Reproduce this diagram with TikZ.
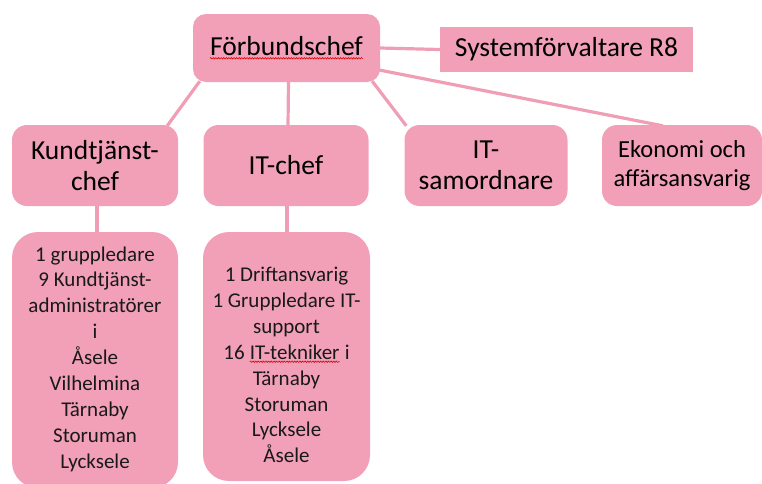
\documentclass[tikz,border=0pt]{standalone}
\usepackage{fontspec}
\setmainfont{Carlito}
\usetikzlibrary{calc,backgrounds,decorations.pathmorphing}
\definecolor{pinkfill}{RGB}{241,160,184}
\definecolor{pinkline}{RGB}{240,158,182}
\newcommand\spellwave[1]{\tikz[baseline=(w.base)]{\node[inner sep=0pt, minimum width=0pt, minimum height=0pt, fill=none, draw=none, sharp corners] (w) {#1};\draw[sharp corners, red!85!black, line width=0.6pt, decorate, decoration={snake, amplitude=0.7pt, segment length=2.6pt}] ([yshift=-2.5pt]w.base west) -- ([yshift=-2.5pt]w.base east);}}
\tikzset{
  boxbase/.style={fill=pinkfill, draw=none, align=center, inner sep=2pt, text=black},
  topbox/.style={boxbase, rounded corners=13pt, font=\fontsize{27.5}{31}\selectfont},
  midbox/.style={boxbase, rounded corners=15pt, font=\fontsize{27.5}{31}\selectfont},
  lowbox/.style={boxbase, rounded corners=26pt},
  plainbox/.style={boxbase, rounded corners=0pt, font=\fontsize{27.5}{31}\selectfont},
  link/.style={draw=pinkline, line width=3.2pt},
  lowtext/.style={align=center, inner sep=0pt, font=\fontsize{21}{25.9}\selectfont, text=black!90}
}
\begin{document}
\begin{tikzpicture}[x=1pt,y=-1pt]
\useasboundingbox (0,0) rectangle (762,483);
% top row
\node[topbox, minimum width=187pt, minimum height=68pt] (F) at (286.5,48) {\spellwave{Förbundschef}};
\node[plainbox, minimum width=253pt, minimum height=45pt] (S) at (566.5,49.5) {Systemförvaltare R8};
% middle row
\node[midbox, minimum width=166pt, minimum height=81pt] (K) at (95,165.5) {Kundtjänst-\\chef};
\node[midbox, minimum width=165pt, minimum height=81pt] (IT) at (286,165.5) {IT-chef};
\node[midbox, minimum width=163pt, minimum height=81pt] (ITs) at (486,165.5) {IT-\\samordnare};
\node[midbox, minimum width=160pt, minimum height=81pt, font=\fontsize{24.5}{29}\selectfont] (E) at (682,165.5) {Ekonomi och\\affärsansvarig};
% bottom boxes
\node[lowbox, minimum width=166pt, minimum height=256pt] (KB) at (95,360) {};
\node[lowbox, minimum width=167pt, minimum height=249pt] (ITB) at (286.5,356.5) {};
\node[lowtext] (KBt) at (95,359) {1 gruppledare\\9 Kundtjänst-\\administratörer\\i\\Åsele\\Vilhelmina\\Tärnaby\\Storuman\\Lycksele};
\node[lowtext] (ITBt) at (286.5,365) {1 Driftansvarig\\1 Gruppledare IT-\\support\\16 \spellwave{IT-tekniker} i\\Tärnaby\\Storuman\\Lycksele\\Åsele};
% connectors
\begin{scope}[on background layer]
\draw[link] (F.east) -- (S.west);
\draw[link] ($(F.south west)+(7,-1)$) -- ($(K.north east)+(-11,1)$);
\draw[link] ($(F.south)+(2,-1)$) -- ($(IT.north)+(2,1)$);
\draw[link] ($(F.south east)+(-8,-1)$) -- ($(ITs.north west)+(2,1)$);
\draw[link] ($(F.east)+(-1,22)$) -- ($(E.north west)+(61,1)$);
\draw[link] ($(K.south)+(2,-1)$) -- ($(KB.north)+(2,1)$);
\draw[link] ($(IT.south)+(1,-1)$) -- ($(ITB.north)+(0.5,1)$);
\end{scope}
\end{tikzpicture}
\end{document}
